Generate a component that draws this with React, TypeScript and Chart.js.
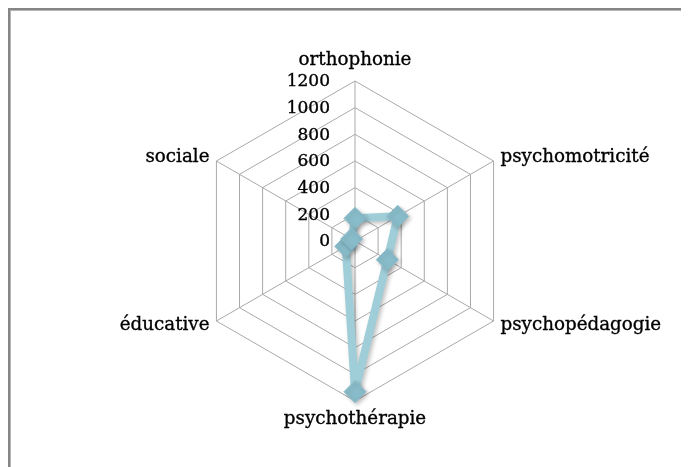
import React, { useEffect, useRef } from "react";
import { Chart, registerables } from "chart.js";

Chart.register(...registerables);

const categories = [
  "orthophonie",
  "psychomotricité",
  "psychopédagogie",
  "psychothérapie",
  "éducative",
  "sociale",
];
const seriesValues = [170, 370, 280, 1130, 80, 30];
const tickLabels = ["0", "200", "400", "600", "800", "1000", "1200"];
const axisMax = 1200;
const axisStep = 200;

const FONT = "'DejaVu Serif', 'Liberation Serif', serif";

const shadowPlugin = {
  id: "dataShadow",
  beforeDatasetsDraw(chart: any) {
    const ctx = chart.ctx;
    ctx.save();
    ctx.shadowColor = "rgba(0,0,0,0.25)";
    ctx.shadowBlur = 4;
    ctx.shadowOffsetX = 2;
    ctx.shadowOffsetY = 2;
  },
  afterDatasetsDraw(chart: any) {
    chart.ctx.restore();
  },
};

function drawText(ctx: CanvasRenderingContext2D, s: string, x: number, y: number) {
  ctx.fillText(s, x, y);
  ctx.strokeText(s, x, y);
}

const labelsPlugin = {
  id: "excelLabels",
  afterDraw(chart: any) {
    const scale = chart.scales.r;
    const ctx = chart.ctx;
    ctx.save();
    ctx.fillStyle = "#000000";
    ctx.strokeStyle = "#000000";
    ctx.lineWidth = 0.35;
    ctx.font = `17px ${FONT}`;
    // tick labels, right-aligned left of the vertical axis
    ctx.textAlign = "right";
    ctx.textBaseline = "middle";
    scale.ticks.forEach((t: any, i: number) => {
      const d = scale.getDistanceFromCenterForValue(t.value);
      const label = tickLabels[i] ?? String(t.value);
      drawText(ctx, label, scale.xCenter - 25, scale.yCenter - d + 1);
    });
    // category labels
    ctx.font = `18.3px ${FONT}`;
    const n = categories.length;
    for (let i = 0; i < n; i++) {
      const angleDeg = (360 / n) * i;
      let pos;
      if (angleDeg === 0) {
        pos = scale.getPointPosition(i, scale.drawingArea + 21);
        ctx.textAlign = "center";
      } else if (angleDeg === 180) {
        pos = scale.getPointPosition(i, scale.drawingArea + 18);
        ctx.textAlign = "center";
      } else {
        pos = scale.getPointPosition(i, scale.drawingArea + 8);
        ctx.textAlign = angleDeg < 180 ? "left" : "right";
      }
      ctx.textBaseline = "middle";
      drawText(ctx, categories[i], pos.x, pos.y);
    }
    ctx.restore();
  },
};

export default function App() {
  const ref = useRef<HTMLCanvasElement | null>(null);
  useEffect(() => {
    if (!ref.current) return;
    const chart = new Chart(ref.current, {
      type: "radar",
      data: {
        labels: categories,
        datasets: [
          {
            label: "Série1",
            data: seriesValues,
            borderColor: "#9fcdd8",
            backgroundColor: "#8bbdca",
            borderWidth: 8,
            fill: false,
            tension: 0,
            pointStyle: "rectRot",
            pointRadius: 11,
            pointHoverRadius: 11,
            pointBackgroundColor: "#89bcca",
            pointBorderColor: "#89bcca",
            pointBorderWidth: 1,
            borderJoinStyle: "round",
          },
        ],
      },
      options: {
        responsive: false,
        animation: false,
        devicePixelRatio: 1,
        layout: { padding: { left: 185, right: 174, top: 71, bottom: 66 } },
        plugins: {
          legend: { display: false },
          tooltip: { enabled: false },
        },
        scales: {
          r: {
            min: 0,
            max: axisMax,
            beginAtZero: true,
            ticks: { stepSize: axisStep, display: false },
            grid: { color: "#a9a9a9", lineWidth: 1 },
            angleLines: { color: "#a9a9a9", lineWidth: 1 },
            pointLabels: { display: false },
          },
        },
      },
      plugins: [shadowPlugin, labelsPlugin],
    });
    return () => chart.destroy();
  }, []);

  return (
    <div
      style={{
        position: "relative",
        width: 681,
        height: 459,
        boxSizing: "border-box",
        borderTop: "2px solid #858585",
        borderLeft: "2px solid #858585",
        boxShadow: "inset 1px 1px 0 #b4b4b4",
        background: "#ffffff",
        overflow: "hidden",
      }}
    >
      <canvas
        ref={ref}
        width={679}
        height={457}
        style={{ display: "block", width: 679, height: 457 }}
      />
    </div>
  );
}
